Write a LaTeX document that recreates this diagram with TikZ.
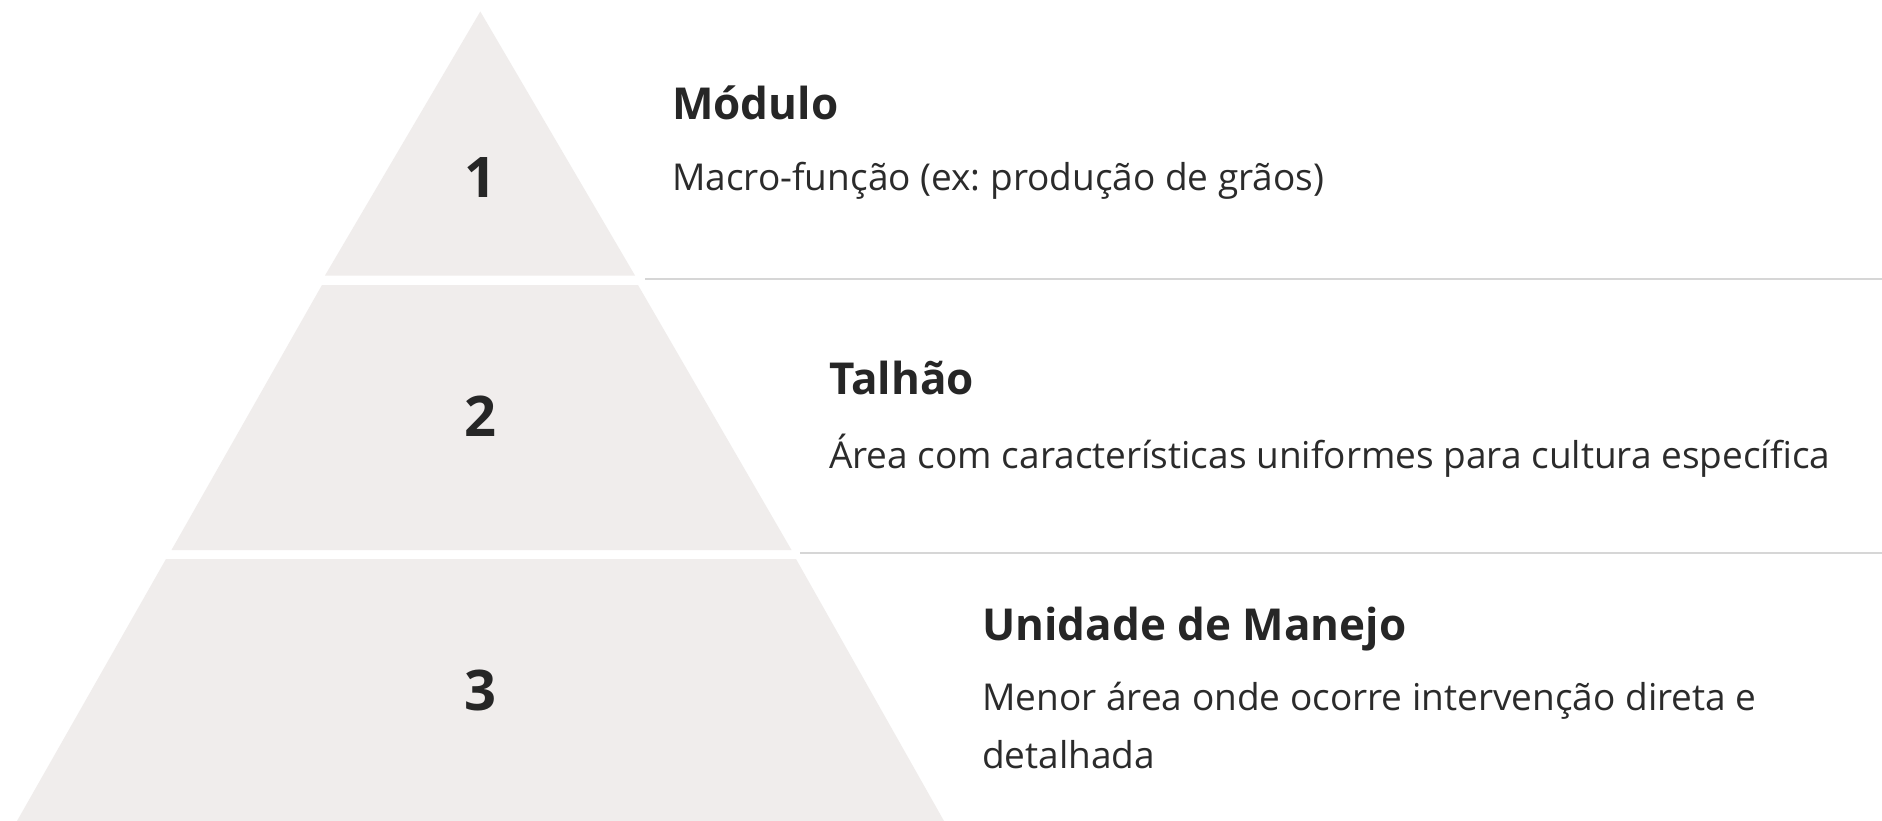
\documentclass[tikz,border=0pt]{standalone}
\usepackage{fontspec}
\setmainfont{Open Sans}
\frenchspacing
\definecolor{pyr}{HTML}{F0EDEC}
\definecolor{ink}{HTML}{262626}
\definecolor{inkb}{HTML}{2B2B2B}
\definecolor{linegray}{HTML}{D6D6D6}
\tikzset{
  layer/.style={fill=pyr, draw=none},
  num/.style={inner sep=0pt, text=ink, font=\fontsize{56}{60}\selectfont\bfseries},
  head/.style={anchor=base west, inner sep=0pt, text=ink, font=\fontsize{44}{52}\selectfont\bfseries},
  body/.style={anchor=base west, inner sep=0pt, text=inkb, font=\fontsize{37}{57.6}\selectfont\frenchspacing},
  sepline/.style={draw=linegray, line width=2pt}
}
\begin{document}
\begin{tikzpicture}[x=1pt,y=-1pt]
\useasboundingbox (0,0) rectangle (1882,821);
\fill[white] (0,0) rectangle (1882,821);
% layers
\fill[layer] (480.3,11.5) -- (635,275.5) -- (325,275.5) -- cycle;
\fill[layer] (322,285) -- (638,285) -- (791.5,550) -- (171.5,550) -- cycle;
\fill[layer] (166,559) -- (796,559) -- (944,821) -- (17,821) -- cycle;
% numbers
\node[num] (n1) at (480,178) {1};
\node[num] (n2) at (480,416.5) {2};
\node[num] (n3) at (480,690) {3};
% separators
\coordinate (s1a) at (645,279);
\coordinate (s1b) at (1882,279);
\coordinate (s2a) at (800,552.5);
\coordinate (s2b) at (1882,552.5);
\draw[sepline] (s1a) -- (s1b);
\draw[sepline] (s2a) -- (s2b);
% texts
\node[head] (h1) at (672,120) {Módulo};
\node[body] (b1) at (672,191) {Macro-função (ex: produção de grãos)};
\node[head] (h2) at (829,394) {Talhão};
\node[body] (b2) at (829,468) {Área com características uniformes para cultura específica};
\node[head] (h3) at (982,640) {Unidade de Manejo};
\node[body] (b3a) at (982,710) {Menor área onde ocorre intervenção direta e};
\node[body] (b3b) at (982,768) {detalhada};
\end{tikzpicture}
\end{document}
